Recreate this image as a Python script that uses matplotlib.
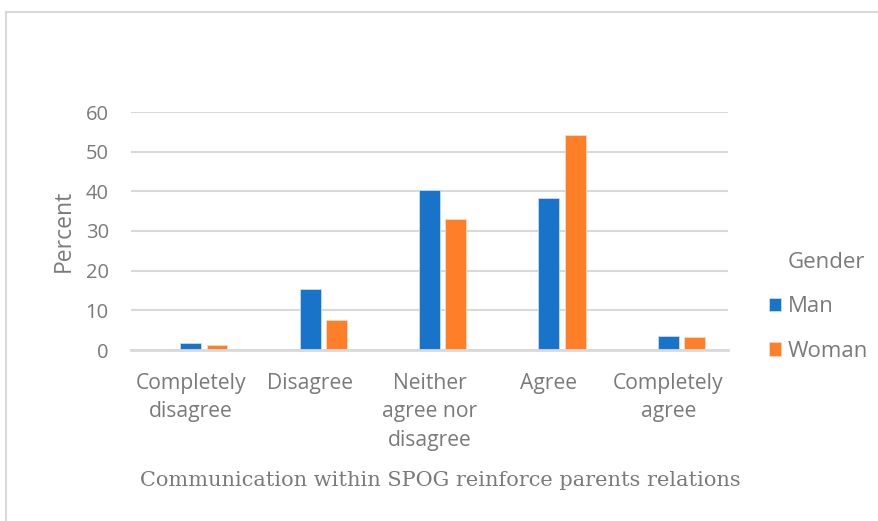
import matplotlib
matplotlib.use("Agg")
import matplotlib.pyplot as plt
from matplotlib.patches import Rectangle
import numpy as np

categories = ["Completely\ndisagree", "Disagree", "Neither\nagree nor\ndisagree", "Agree", "Completely\nagree"]
man = [1.7, 15.3, 40.3, 38.4, 3.6]
woman = [1.3, 7.6, 32.9, 54.2, 3.4]
series_names = ["Man", "Woman"]
legend_title = "Gender"
y_ticks = [0, 10, 20, 30, 40, 50, 60]

BLUE = "#1874c8"
ORANGE = "#fe7f27"
GRID = "#d9d9d9"
TEXT = "#7a7a7a"

W, H = 879, 521
fig = plt.figure(figsize=(W / 100, H / 100), dpi=100)

# chart frame (top/left edges visible)
fig.patches.append(Rectangle((6 / W, -0.2), 1.2, (H - 12) / H + 0.2,
                             transform=fig.transFigure, fill=False,
                             edgecolor=GRID, linewidth=1.5, zorder=0))

ax = fig.add_axes([131 / W, 1 - 350 / H, (728 - 131) / W, (350 - 112) / H])

x = np.arange(len(categories))
slot = 0.22
bw = 0.175
b1 = ax.bar(x, man, width=bw, color=BLUE, edgecolor="#c9dcf0", linewidth=0.6,
            label=series_names[0], zorder=3)
b2 = ax.bar(x + slot, woman, width=bw, color=ORANGE, edgecolor="#ffd9bf", linewidth=0.6,
            label=series_names[1], zorder=3)

ax.set_xlim(-0.5, len(categories) - 0.5)
ax.set_ylim(0, 60)
ax.set_yticks(y_ticks)
ax.yaxis.grid(True, color=GRID, linewidth=1.5, zorder=0)
ax.set_axisbelow(True)
for s in ["top", "right", "left"]:
    ax.spines[s].set_visible(False)
ax.spines["bottom"].set_color(GRID)
ax.spines["bottom"].set_linewidth(2)
ax.spines["bottom"].set_zorder(4)

font = "Open Sans"
ax.set_xticks(x)
ax.set_xticklabels(categories, fontsize=15.2, color=TEXT, family=font, linespacing=1.46)
ax.tick_params(axis="x", length=0, pad=16.5)
ax.tick_params(axis="y", length=0, pad=16, labelsize=14.5, labelcolor=TEXT)
for t in ax.get_yticklabels():
    t.set_family(font)

ax.set_ylabel("Percent", fontsize=16.5, color=TEXT, family=font, labelpad=7)
fig.text(440 / W, 1 - 480 / H, "Communication within SPOG reinforce parents relations",
         ha="center", va="center", fontsize=15, color=TEXT, family="DejaVu Serif")

# legend: title drawn as text, entries below it
fig.text(788 / W, 1 - 262 / H, legend_title, ha="left", va="center",
         fontsize=16, color=TEXT, family=font)
leg = ax.legend(handles=[b1, b2], loc="center left",
                bbox_to_anchor=((769 - 131) / 597, (350 - 329) / 238), frameon=False,
                fontsize=16, handlelength=0.55, handleheight=0.55,
                handletextpad=0.3, labelspacing=1.07,
                borderaxespad=0, borderpad=0)
for t in leg.get_texts():
    t.set_color(TEXT)
    t.set_family(font)

fig.savefig("out.png", dpi=100, facecolor="white")
